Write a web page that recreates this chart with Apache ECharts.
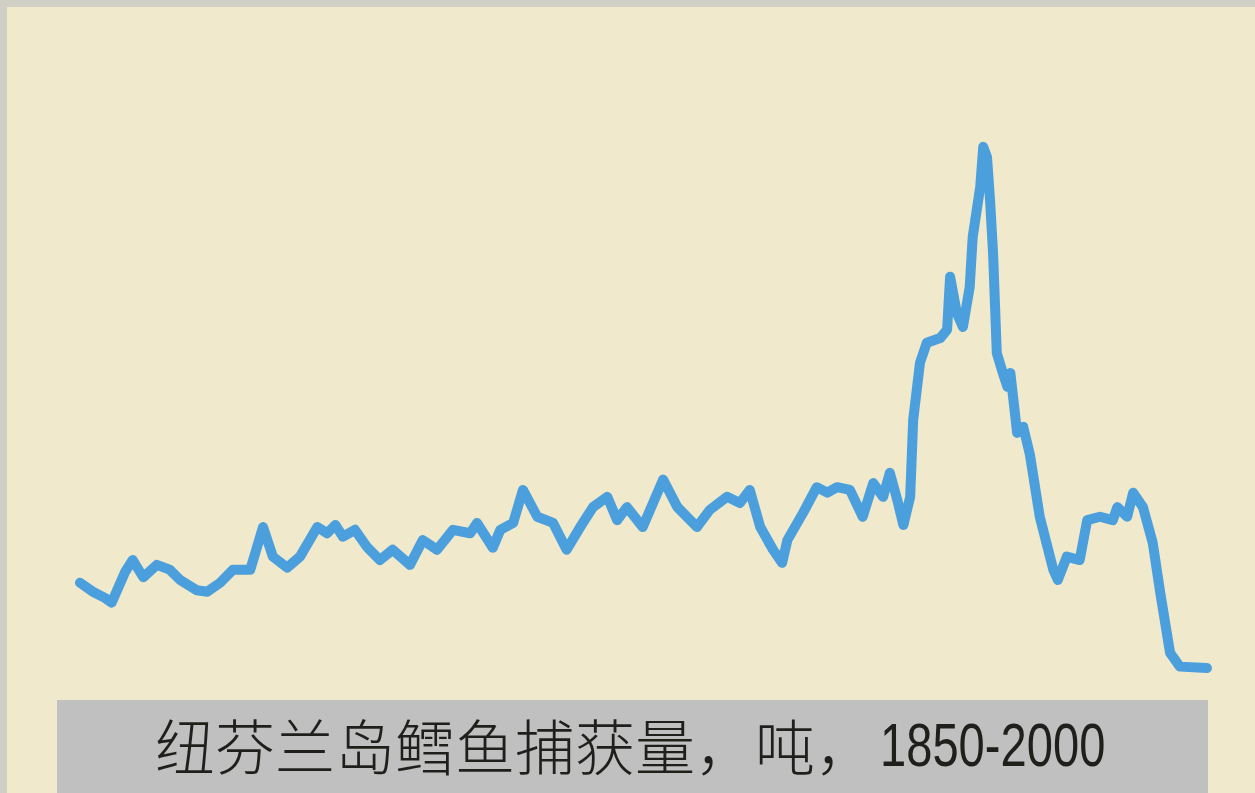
<!DOCTYPE html>
<html>
<head>
<meta charset="utf-8">
<script src="https://cdn.jsdelivr.net/npm/echarts@6/dist/echarts.min.js"></script>
<style>
html,body{margin:0;padding:0;background:#cfcfc5;}
#c{width:1255px;height:793px;}
</style>
</head>
<body>
<div id="c"></div>
<script>
// Newfoundland cod catch, thousand tonnes
const years = [1850,1851.7,1853.3,1854.2,1856,1857,1858.4,1860.2,1861.9,1863.3,1865.5,1866.9,1868.6,1870.3,1872.6,1874.3,1875.6,1877.5,1879.2,1881.5,1882.8,1883.9,1884.9,1886.5,1888.1,1889.8,1891.5,1893.8,1895.5,1897.4,1899.5,1901.8,1902.7,1904.8,1905.8,1907.5,1908.8,1910.7,1912.8,1914.6,1916.4,1918.1,1920,1921.3,1922.6,1924.7,1927.4,1929.3,1931.9,1933.6,1935.9,1937.6,1938.9,1940.3,1942,1943.2,1943.9,1946,1947.8,1949.2,1950.5,1952.2,1953.9,1955.3,1956.6,1957.5,1958.5,1959.3,1960.2,1960.6,1961.5,1962.4,1964.2,1965.1,1965.5,1966.4,1967.2,1968.1,1968.5,1969.5,1969.9,1970.4,1970.8,1971.2,1971.7,1972.5,1973.1,1973.5,1974.4,1975.2,1976.1,1977.4,1979.2,1979.8,1981,1982.7,1983.7,1985.4,1987.1,1987.7,1989,1989.8,1991.1,1992.4,1993.4,1994.7,1996,1999.6];
const catchKt = [156,143,134,127,172,189,164,182,175,160,145,143,156,175,175,237,194,178,194,237,228,240,223,233,208,189,204,182,218,204,233,228,243,207,233,243,291,252,243,204,237,266,281,247,266,237,306,266,237,262,281,272,291,237,204,185,218,258,295,287,295,291,252,301,281,316,276,240,281,393,476,505,512,524,601,548,528,586,659,732,790,775,713,636,490,461,441,461,374,383,342,252,175,160,194,189,247,252,247,266,252,287,266,214,141,54,34,32];
const titleCn = '纽芬兰岛鳕鱼捕获量，吨，';
const titleNum = '1850-2000';

const chart = echarts.init(document.getElementById('c'), null, {renderer:'canvas'});
chart.setOption({
  backgroundColor: '#f0e9cb',
  animation: false,
  grid: {left: 80, right: 45, top: 140, bottom: 103},
  xAxis: {type:'value', min:1850, max:2000, show:false},
  yAxis: {type:'value', min:0, max:800, show:false},
  series: [{
    type: 'line',
    data: years.map((y, i) => [y, catchKt[i]]),
    symbol: 'none',
    lineStyle: {color:'#4b9fdc', width:10, cap:'round', join:'round'}
  }],
  graphic: [
    {type:'rect', left:0, top:0, shape:{width:1255, height:7}, style:{fill:'#cfcfc5'}, z:10},
    {type:'rect', left:0, top:0, shape:{width:7, height:793}, style:{fill:'#cfcfc5'}, z:10},
    {type:'rect', left:57, top:700, shape:{width:1151, height:93}, style:{fill:'#c0c0c0'}, z:10},
    {type:'text', x:155, y:747, z:11,
     style:{text:titleCn, font:'300 60px "Noto Sans CJK SC"', fill:'#1f1f1b', align:'left', verticalAlign:'middle'}},
    {type:'text', x:880, y:749, scaleX:0.76, z:11,
     style:{text:titleNum, font:'62px "Liberation Sans", Arial, sans-serif', fill:'#1f1f1b', align:'left', verticalAlign:'middle'}}
  ]
});
</script>
</body>
</html>
